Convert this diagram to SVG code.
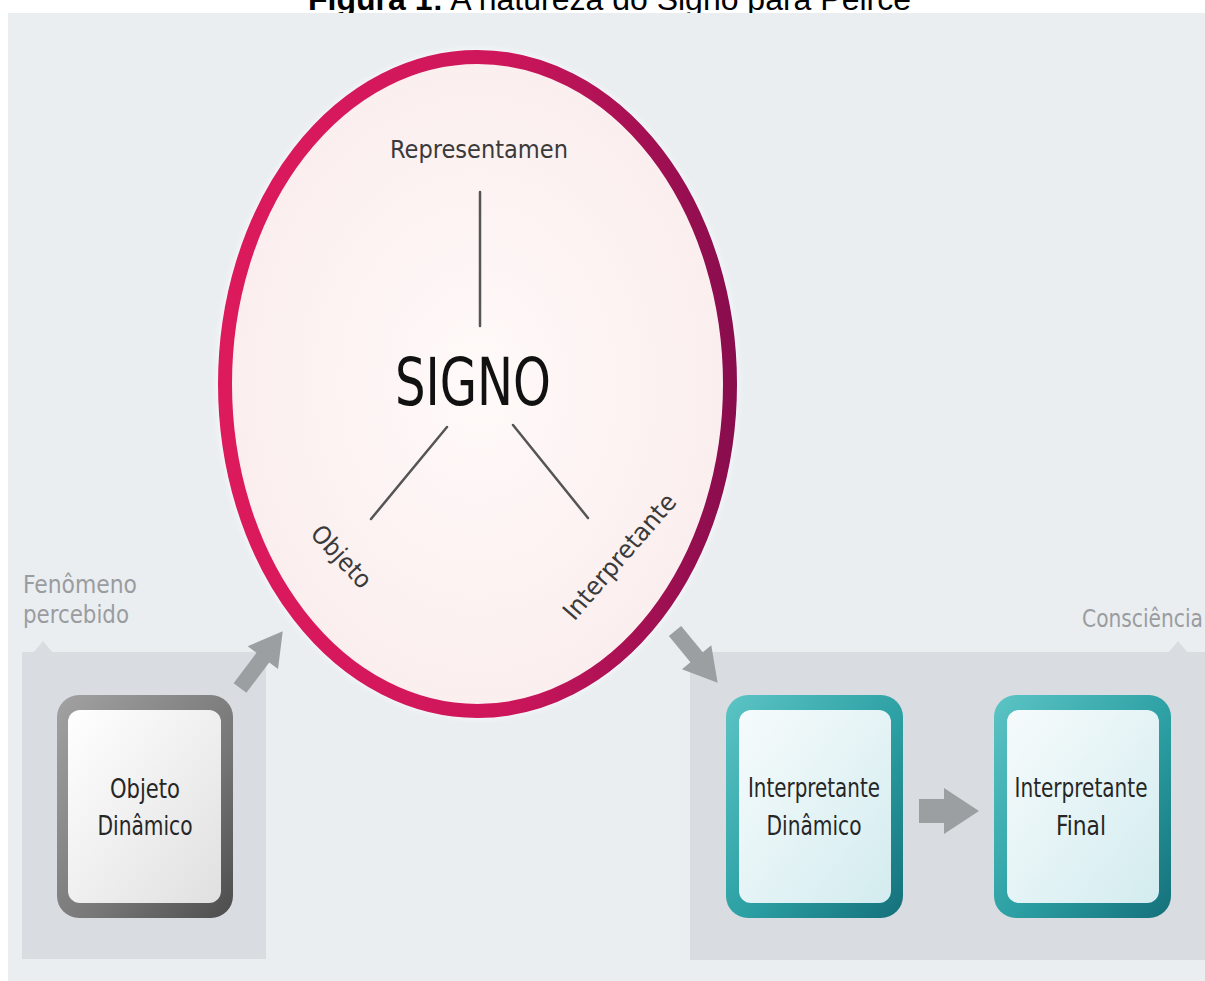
<svg xmlns="http://www.w3.org/2000/svg" width="1205" height="981" viewBox="0 0 1205 981">
  <defs>
    <style>
      .cond { font-family: "Liberation Sans Narrow", "DejaVu Sans Condensed", "Roboto Condensed", "Liberation Sans", sans-serif; font-stretch: condensed; }
      .title { font-family: "Liberation Sans", Arial, sans-serif; font-size: 32px; fill: #000; }
      .panel { fill: #D9DDE2; }
      .label-gray { fill: #9A9C9F; font-size: 25px; }
      .triad { fill: #3A3A3A; font-size: 25px; }
      .boxtext { fill: #262626; font-size: 27px; text-anchor: middle; }
      .line { stroke: #555; stroke-width: 2.5; fill: none; stroke-linecap: round; }
      .arrow { fill: #9C9FA2; }
    </style>
    <linearGradient id="ringGrad" x1="0" y1="0" x2="1" y2="0">
      <stop offset="0" stop-color="#DC1A5C"/>
      <stop offset="0.55" stop-color="#CE165B"/>
      <stop offset="1" stop-color="#8A0D4E"/>
    </linearGradient>
    <radialGradient id="ringFill" cx="0.5" cy="0.5" r="0.5">
      <stop offset="0" stop-color="#FFFAF9"/>
      <stop offset="1" stop-color="#FBEEEE"/>
    </radialGradient>
    <linearGradient id="grayFrame" x1="0" y1="0" x2="1" y2="1">
      <stop offset="0" stop-color="#A2A2A2"/>
      <stop offset="0.6" stop-color="#777"/>
      <stop offset="1" stop-color="#4C4C4C"/>
    </linearGradient>
    <linearGradient id="grayInner" x1="0" y1="0" x2="1" y2="1">
      <stop offset="0" stop-color="#FFFFFF"/>
      <stop offset="1" stop-color="#E0E0E0"/>
    </linearGradient>
    <linearGradient id="tealFrame" x1="0" y1="0" x2="1" y2="1">
      <stop offset="0" stop-color="#5CC4C5"/>
      <stop offset="0.55" stop-color="#2B9FA3"/>
      <stop offset="1" stop-color="#15707A"/>
    </linearGradient>
    <linearGradient id="tealInner" x1="0" y1="0" x2="1" y2="1">
      <stop offset="0" stop-color="#F6FBFC"/>
      <stop offset="1" stop-color="#D3ECEF"/>
    </linearGradient>
    <filter id="soft" x="-10%" y="-10%" width="120%" height="120%">
      <feGaussianBlur stdDeviation="3"/>
    </filter>
  </defs>

  <rect x="0" y="0" width="1205" height="981" fill="#FFFFFF"/>

  <g id="title">
    <text class="title" x="308" y="9.5"><tspan font-weight="bold">Figura 1:</tspan> A natureza do Signo para Peirce</text>
  </g>

  <g id="background">
    <rect x="8" y="13" width="1197" height="968" fill="#EAEEF1"/>
  </g>

  <g id="panel-fenomeno">
    <rect class="panel" x="22" y="652" width="244" height="307"/>
    <polygon class="panel" points="33,653 43,641 53,653"/>
    <text class="cond label-gray" x="23" y="593" textLength="114" lengthAdjust="spacingAndGlyphs">Fenômeno</text>
    <text class="cond label-gray" x="23" y="623" textLength="106" lengthAdjust="spacingAndGlyphs">percebido</text>
  </g>

  <g id="panel-consciencia">
    <rect class="panel" x="690" y="652" width="515" height="308"/>
    <polygon class="panel" points="1168,653 1178,641 1188,653"/>
    <text class="cond label-gray" x="1082" y="627" textLength="121" lengthAdjust="spacingAndGlyphs">Consciência</text>
  </g>

  <g id="signo">
    <ellipse cx="477.5" cy="384" rx="256" ry="330" fill="none" stroke="#FFFFFF" stroke-width="10" opacity="0.6" filter="url(#soft)"/>
    <ellipse cx="477.5" cy="384" rx="252.5" ry="327" fill="url(#ringFill)" stroke="url(#ringGrad)" stroke-width="14"/>
    <text class="cond triad" x="479" y="158" text-anchor="middle" textLength="178" lengthAdjust="spacingAndGlyphs">Representamen</text>
    <text class="cond" x="473" y="405" text-anchor="middle" font-size="66" fill="#111" textLength="156" lengthAdjust="spacingAndGlyphs">SIGNO</text>
    <g transform="translate(341,557) rotate(47)">
      <text class="cond triad" x="0" y="8" text-anchor="middle" textLength="76" lengthAdjust="spacingAndGlyphs">Objeto</text>
    </g>
    <g transform="translate(620,557) rotate(-49)">
      <text class="cond triad" x="0" y="8" text-anchor="middle" textLength="158" lengthAdjust="spacingAndGlyphs">Interpretante</text>
    </g>
  </g>

  <g id="node-objeto-dinamico">
    <rect x="57" y="695" width="176" height="223" rx="22" fill="url(#grayFrame)"/>
    <rect x="68" y="710" width="153" height="193" rx="12" fill="url(#grayInner)"/>
    <text class="cond boxtext" x="145" y="798" textLength="70" lengthAdjust="spacingAndGlyphs">Objeto</text>
    <text class="cond boxtext" x="145" y="835" textLength="95" lengthAdjust="spacingAndGlyphs">Dinâmico</text>
  </g>

  <g id="node-interpretante-dinamico">
    <rect x="726" y="695" width="177" height="223" rx="22" fill="url(#tealFrame)"/>
    <rect x="739" y="710" width="152" height="193" rx="12" fill="url(#tealInner)"/>
    <text class="cond boxtext" x="814" y="797" textLength="132" lengthAdjust="spacingAndGlyphs">Interpretante</text>
    <text class="cond boxtext" x="814" y="835" textLength="95" lengthAdjust="spacingAndGlyphs">Dinâmico</text>
  </g>

  <g id="node-interpretante-final">
    <rect x="994" y="695" width="177" height="223" rx="22" fill="url(#tealFrame)"/>
    <rect x="1007" y="710" width="152" height="193" rx="12" fill="url(#tealInner)"/>
    <text class="cond boxtext" x="1081" y="797" textLength="133" lengthAdjust="spacingAndGlyphs">Interpretante</text>
    <text class="cond boxtext" x="1081" y="835" textLength="50" lengthAdjust="spacingAndGlyphs">Final</text>
  </g>

  <g id="connectors">
    <line class="line" x1="480" y1="192" x2="480" y2="326"/>
    <line class="line" x1="447" y1="427" x2="371" y2="519"/>
    <line class="line" x1="513" y1="425" x2="588" y2="518"/>
    <polygon class="arrow" transform="translate(240,688) rotate(-53)" points="0,-8 38,-8 38,-19 71,0 38,19 38,8 0,8"/>
    <polygon class="arrow" transform="translate(675,631) rotate(50.5)" points="0,-8 34,-8 34,-19 67,0 34,19 34,8 0,8"/>
    <polygon class="arrow" points="919,799 944,799 944,788 979,811 944,834 944,823 919,823"/>
  </g>
</svg>
